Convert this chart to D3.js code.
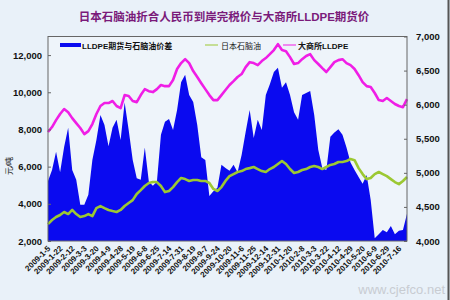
<!DOCTYPE html>
<html>
<head>
<meta charset="utf-8">
<script src="https://cdn.jsdelivr.net/npm/d3@7"></script>
<style>
  body { margin: 0; background: #e9f1f9; }
  svg { display: block; }
  text { font-family: "Liberation Sans", Arial, "Noto Sans CJK SC", sans-serif; }
</style>
</head>
<body>
<div id="chart"></div>
<script>
// data (roughly Jan 2009 - Jul 2010)
const dateLabels = [
  "2009-1-5", "2009-1-22", "2009-2-12", "2009-3-3", "2009-3-20", "2009-4-9",
  "2009-4-28", "2009-5-19", "2009-6-8", "2009-6-25", "2009-7-14", "2009-7-31",
  "2009-8-19", "2009-9-7", "2009-9-24", "2009-10-20", "2009-11-6", "2009-11-25",
  "2009-12-14", "2009-12-31", "2010-1-20", "2010-2-8", "2010-3-3", "2010-3-22",
  "2010-4-12", "2010-4-29", "2010-5-20", "2010-6-9", "2010-6-29", "2010-7-16"
];

// 大商所LLDPE (left axis, 元/吨)
const lldpe = [
  7860, 8130, 8500, 8830, 9100, 8930, 8610, 8340, 8080, 7750,
  7910, 8290, 8830, 9260, 9420, 9420, 9530, 9260, 9150, 9850,
  9800, 9530, 9470, 9850, 10170, 10060, 10010, 10170, 10390, 10330,
  10330, 10660, 11250, 11570, 11780, 11570, 11140, 10820, 10490, 10170,
  9850, 9580, 9580, 9850, 10120, 10390, 10600, 10820, 10980, 11350,
  11620, 11570, 11460, 11680, 11840, 12050, 12270, 12590, 12270, 12210,
  11890, 11520, 11570, 11780, 11950, 12050, 11730, 11520, 11300, 11090,
  11350, 11620, 11730, 11780, 11570, 11460, 11250, 10920, 10550, 10330,
  10280, 9960, 9580, 9530, 9690, 9530, 9370, 9260, 9200, 9630
];

// 日本石脑油 (left axis, 元/吨)
const naphtha = [
  2910, 3130, 3290, 3400, 3560, 3450, 3670, 3450, 3290, 3340,
  3450, 3340, 3770, 3880, 3770, 3670, 3610, 3560, 3670, 3880,
  4040, 4200, 4530, 4740, 4960, 5120, 5170, 5170, 4960, 4630,
  4690, 4900, 5170, 5390, 5330, 5230, 5280, 5280, 5230, 5230,
  5120, 4800, 4690, 4900, 5230, 5490, 5600, 5710, 5760, 5870,
  5920, 5980, 5870, 5760, 5710, 5870, 5980, 6140, 6300, 6140,
  5870, 5660, 5710, 5820, 5870, 5980, 6030, 5980, 5870, 5980,
  6090, 6140, 6250, 6250, 6300, 6410, 6350, 5920, 5600, 5330,
  5390, 5600, 5710, 5600, 5490, 5330, 5170, 5060, 5230, 5440
];

// LLDPE期货与石脑油价差 (right axis)
const spread = [
  4880, 5040, 5310, 5010, 5380, 5660, 5040, 4900, 4530, 4530,
  4680, 5190, 5480, 5850, 5700, 5390, 5660, 5780, 5480, 6030,
  5630, 5190, 4920, 4900, 5370, 4870, 4810, 4870, 5560, 5750,
  5790, 5630, 5920, 6330, 6440, 6140, 6040, 5700, 5230, 5190,
  4660, 4730, 4780, 5120, 5070, 5030, 5120, 5010, 5260, 5600,
  5920, 5510, 5780, 5630, 6140, 6300, 6480, 6540, 6250, 6330,
  6140, 5890, 5780, 6140, 6170, 6200, 5850, 5340, 5070, 5040,
  5530, 5590, 5640, 5560, 5370, 5150, 5040, 4940, 4840, 4970,
  4600, 4040, 4100, 4160, 4130, 4220, 4100, 4150, 4160, 4400
];

const leftTicks = [2000, 4000, 6000, 8000, 10000, 12000];
const rightTicks = [4000, 4500, 5000, 5500, 6000, 6500, 7000];

const W = 450, H = 300;
const plot = { left: 48, right: 407, top: 36.5, bottom: 241 };

const svg = d3.select("#chart").append("svg")
  .attr("width", W)
  .attr("height", H);

svg.append("rect").attr("width", W).attr("height", H).attr("fill", "#e9f1f9");
svg.append("line")
  .attr("x1", W - 1.5).attr("x2", W - 1.5).attr("y1", 0).attr("y2", H)
  .attr("stroke", "#555").attr("stroke-width", 2);

const x = d3.scaleLinear().domain([0, lldpe.length - 1]).range([plot.left, plot.right]);
const yL = d3.scaleLinear().domain([2000, 13000]).range([plot.bottom, plot.top]);
const yR = d3.scaleLinear().domain([4000, 7000]).range([plot.bottom, plot.top]);

// plot background
svg.append("rect")
  .attr("x", plot.left).attr("y", plot.top)
  .attr("width", plot.right - plot.left).attr("height", plot.bottom - plot.top)
  .attr("fill", "#eef4fa");

// spread area
svg.append("path")
  .datum(spread)
  .attr("fill", "#0a0af0")
  .attr("d", d3.area()
    .x((d, i) => x(i))
    .y0(yR(4000))
    .y1((d) => yR(d)));

// naphtha line
svg.append("path")
  .datum(naphtha)
  .attr("fill", "none")
  .attr("stroke", "#9cc832")
  .attr("stroke-width", 2.6)
  .attr("stroke-linejoin", "round")
  .attr("d", d3.line().x((d, i) => x(i)).y((d) => yL(d)));

// lldpe line
svg.append("path")
  .datum(lldpe)
  .attr("fill", "none")
  .attr("stroke", "#f01ee6")
  .attr("stroke-width", 2.6)
  .attr("stroke-linejoin", "round")
  .attr("d", d3.line().x((d, i) => x(i)).y((d) => yL(d)));

// frame
svg.append("rect")
  .attr("x", plot.left).attr("y", plot.top)
  .attr("width", plot.right - plot.left).attr("height", plot.bottom - plot.top)
  .attr("fill", "none").attr("stroke", "#666").attr("stroke-width", 1);

// axes
const leftAxis = svg.append("g")
  .attr("transform", `translate(${plot.left},0)`)
  .call(d3.axisLeft(yL).tickValues(leftTicks).tickSize(-3).tickPadding(6));
const rightAxis = svg.append("g")
  .attr("transform", `translate(${plot.right},0)`)
  .call(d3.axisRight(yR).tickValues(rightTicks).tickSize(-3).tickPadding(9));
[leftAxis, rightAxis].forEach((g) => {
  g.select(".domain").remove();
  g.selectAll(".tick line").attr("stroke", "#666");
  g.selectAll("text")
    .attr("font-size", 9.5)
    .attr("font-weight", "bold")
    .attr("fill", "#111");
});

// x tick labels (every third point)
const xAxis = svg.append("g");
xAxis.selectAll("text")
  .data(dateLabels)
  .join("text")
  .attr("transform", (d, i) => `translate(${x(i * 3) + 3},${plot.bottom + 8}) rotate(-45)`)
  .attr("text-anchor", "end")
  .attr("font-size", 8)
  .attr("font-weight", "bold")
  .attr("fill", "#111")
  .text((d) => d);

// y axis title
svg.append("text")
  .attr("transform", "translate(12,166) rotate(-90)")
  .attr("text-anchor", "middle")
  .attr("font-size", 8)
  .attr("font-family", "Noto Sans CJK SC")
  .attr("fill", "#222")
  .text("元/吨");

// title
svg.append("text")
  .attr("x", 224).attr("y", 21)
  .attr("text-anchor", "middle")
  .attr("font-size", 11.5)
  .attr("font-weight", "bold")
  .attr("font-family", "Noto Sans CJK SC")
  .attr("fill", "#7a1a7a")
  .text("日本石脑油折合人民币到岸完税价与大商所LLDPE期货价");

// legend
const legend = svg.append("g").attr("font-size", 8).attr("font-weight", "bold");
legend.append("rect").attr("x", 60).attr("y", 43).attr("width", 21).attr("height", 4).attr("fill", "#0a0af0");
legend.append("text").attr("x", 82).attr("y", 48.5).attr("fill", "#111")
  .attr("font-family", "Liberation Sans, Noto Sans CJK SC").text("LLDPE期货与石脑油价差");
legend.append("line").attr("x1", 205).attr("x2", 218).attr("y1", 45).attr("y2", 45)
  .attr("stroke", "#9cc832").attr("stroke-width", 1);
legend.append("text").attr("x", 221).attr("y", 48.5).attr("fill", "#111")
  .attr("font-family", "Noto Sans CJK SC").attr("font-weight", "normal").text("日本石脑油");
legend.append("line").attr("x1", 283).attr("x2", 296).attr("y1", 45).attr("y2", 45)
  .attr("stroke", "#f01ee6").attr("stroke-width", 1);
legend.append("text").attr("x", 298).attr("y", 48.5).attr("fill", "#111")
  .attr("font-family", "Liberation Sans, Noto Sans CJK SC").text("大商所LLDPE");

// watermark
svg.append("text")
  .attr("x", 445).attr("y", 294)
  .attr("text-anchor", "end")
  .attr("font-size", 13)
  .attr("font-family", "Liberation Serif")
  .attr("fill", "#c8ccd2")
  .text("www.cjefco.net");
</script>
</body>
</html>
